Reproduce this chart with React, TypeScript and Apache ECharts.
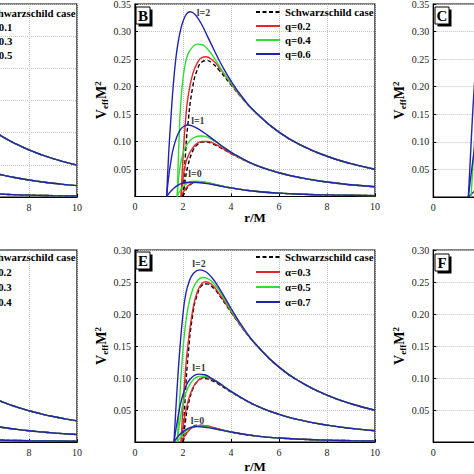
import React, { useEffect, useRef } from "react";
import * as echarts from "echarts";

const FONT = "'Liberation Serif', 'Times New Roman', Times, serif";

// ---------- data: r/M values and V_eff M^2 ----------
const xTicks = { min: 0, max: 10, step: 2 };

// Schwarzschild (black dashed)
const schwL2 = [[2, 0], [2.1, 0.075], [2.2, 0.13], [2.4, 0.198], [2.6, 0.231], [2.8, 0.245], [3.0, 0.247], [3.2, 0.243], [3.5, 0.23], [4, 0.203], [4.5, 0.177], [5, 0.154], [6, 0.117], [7, 0.0916], [8, 0.0732], [9, 0.0597], [10, 0.0496]];
const schwL1 = [[2, 0], [2.1, 0.032], [2.2, 0.055], [2.4, 0.082], [2.6, 0.0945], [2.8, 0.099], [3.0, 0.0988], [3.2, 0.096], [3.5, 0.09], [4, 0.0781], [4.5, 0.0671], [5, 0.0576], [6, 0.0432], [7, 0.0333], [8, 0.0264], [9, 0.0213], [10, 0.0176]];
const schwL0 = [[2, 0], [2.1, 0.0103], [2.2, 0.0171], [2.4, 0.0241], [2.6, 0.0263], [2.8, 0.026], [3.0, 0.0247], [3.2, 0.0229], [3.5, 0.02], [4, 0.0156], [5, 0.0096], [6, 0.0062], [7, 0.0042], [8, 0.0029], [9, 0.0022], [10, 0.0016]];

// Panel B: q = 0.2, 0.4, 0.6
const qLabels = ["q=0.2", "q=0.4", "q=0.6"];
const q02L2 = [[1.92, 0], [2.0, 0.07], [2.1, 0.135], [2.2, 0.178], [2.4, 0.222], [2.6, 0.243], [2.8, 0.253], [2.95, 0.254], [3.2, 0.249], [3.5, 0.235], [4, 0.205], [4.5, 0.177], [5, 0.154], [6, 0.117], [7, 0.0916], [8, 0.0732], [9, 0.0597], [10, 0.0496]];
const q04L2 = [[1.76, 0], [1.8, 0.06], [1.85, 0.12], [1.9, 0.165], [2.0, 0.215], [2.1, 0.242], [2.2, 0.258], [2.4, 0.272], [2.6, 0.277], [2.8, 0.276], [3.0, 0.269], [3.3, 0.252], [3.6, 0.231], [4, 0.206], [4.5, 0.178], [5, 0.154], [6, 0.117], [7, 0.0916], [8, 0.0732], [9, 0.0597], [10, 0.0496]];
const q06L2 = [[1.32, 0], [1.4, 0.075], [1.5, 0.145], [1.6, 0.205], [1.7, 0.25], [1.8, 0.281], [1.9, 0.303], [2.0, 0.318], [2.15, 0.332], [2.3, 0.336], [2.5, 0.331], [2.75, 0.315], [3.0, 0.293], [3.3, 0.266], [3.6, 0.24], [4, 0.21], [4.5, 0.179], [5, 0.154], [6, 0.117], [7, 0.0916], [8, 0.0732], [9, 0.0597], [10, 0.0496]];
const q02L1 = [[1.92, 0], [2.0, 0.033], [2.1, 0.058], [2.2, 0.072], [2.4, 0.088], [2.6, 0.097], [2.8, 0.1], [3.0, 0.1], [3.3, 0.096], [3.6, 0.089], [4, 0.0785], [4.5, 0.0672], [5, 0.0576], [6, 0.0432], [7, 0.0333], [8, 0.0264], [9, 0.0213], [10, 0.0176]];
const q04L1 = [[1.76, 0], [1.8, 0.025], [1.85, 0.045], [1.95, 0.07], [2.1, 0.09], [2.3, 0.102], [2.5, 0.108], [2.75, 0.11], [3.0, 0.108], [3.3, 0.101], [3.7, 0.09], [4.2, 0.075], [5, 0.0576], [6, 0.0432], [7, 0.0333], [8, 0.0264], [9, 0.0213], [10, 0.0176]];
const q06L1 = [[1.32, 0], [1.4, 0.035], [1.5, 0.065], [1.6, 0.088], [1.75, 0.109], [1.9, 0.122], [2.05, 0.128], [2.2, 0.13], [2.4, 0.128], [2.7, 0.121], [3.0, 0.112], [3.4, 0.099], [3.8, 0.086], [4.2, 0.0755], [5, 0.0576], [6, 0.0432], [7, 0.0333], [8, 0.0264], [9, 0.0213], [10, 0.0176]];
const q02L0 = [[1.92, 0], [2.0, 0.007], [2.2, 0.019], [2.4, 0.025], [2.65, 0.0268], [2.9, 0.026], [3.2, 0.0232], [3.6, 0.019], [4, 0.0156], [5, 0.0096], [6, 0.0062], [7, 0.0042], [8, 0.0029], [9, 0.0022], [10, 0.0016]];
const q04L0 = [[1.76, 0], [1.9, 0.012], [2.1, 0.022], [2.3, 0.0265], [2.5, 0.0278], [2.7, 0.0275], [3.0, 0.0255], [3.4, 0.0213], [4, 0.0157], [5, 0.0096], [6, 0.0062], [7, 0.0042], [8, 0.0029], [9, 0.0022], [10, 0.0016]];
const q06L0 = [[1.32, 0], [1.5, 0.01], [1.7, 0.018], [1.9, 0.023], [2.1, 0.0255], [2.3, 0.026], [2.6, 0.0255], [3.0, 0.0235], [3.5, 0.0195], [4, 0.0157], [5, 0.0096], [6, 0.0062], [7, 0.0042], [8, 0.0029], [9, 0.0022], [10, 0.0016]];

// Panel E: alpha = 0.3, 0.5, 0.7
const aLabels = ["α=0.3", "α=0.5", "α=0.7"];
const a03L2 = [[1.92, 0], [2.0, 0.055], [2.1, 0.11], [2.2, 0.15], [2.4, 0.205], [2.6, 0.235], [2.8, 0.248], [2.96, 0.2505], [3.2, 0.246], [3.5, 0.232], [4, 0.204], [4.5, 0.177], [5, 0.154], [6, 0.117], [7, 0.0916], [8, 0.0732], [9, 0.0597], [10, 0.0496]];
const a05L2 = [[1.76, 0], [1.85, 0.06], [1.95, 0.12], [2.05, 0.165], [2.2, 0.208], [2.4, 0.238], [2.6, 0.252], [2.82, 0.257], [3.05, 0.255], [3.3, 0.247], [3.6, 0.231], [4, 0.206], [4.5, 0.178], [5, 0.154], [6, 0.117], [7, 0.0916], [8, 0.0732], [9, 0.0597], [10, 0.0496]];
const a07L2 = [[1.625, 0], [1.7, 0.05], [1.8, 0.11], [1.9, 0.16], [2.0, 0.2], [2.1, 0.228], [2.25, 0.25], [2.45, 0.264], [2.7, 0.269], [2.95, 0.266], [3.2, 0.257], [3.5, 0.241], [4, 0.209], [4.5, 0.179], [5, 0.154], [6, 0.117], [7, 0.0916], [8, 0.0732], [9, 0.0597], [10, 0.0496]];
const a03L1 = [[1.92, 0], [2.05, 0.035], [2.2, 0.062], [2.4, 0.084], [2.6, 0.095], [2.85, 0.101], [3.1, 0.0995], [3.4, 0.094], [3.8, 0.084], [4.2, 0.0745], [5, 0.0576], [6, 0.0432], [7, 0.0333], [8, 0.0264], [9, 0.0213], [10, 0.0176]];
const a05L1 = [[1.76, 0], [1.9, 0.04], [2.05, 0.068], [2.2, 0.084], [2.4, 0.096], [2.6, 0.102], [2.8, 0.103], [3.0, 0.102], [3.3, 0.097], [3.6, 0.09], [4, 0.0788], [5, 0.0576], [6, 0.0432], [7, 0.0333], [8, 0.0264], [9, 0.0213], [10, 0.0176]];
const a07L1 = [[1.625, 0], [1.75, 0.03], [1.9, 0.06], [2.05, 0.08], [2.2, 0.093], [2.4, 0.102], [2.64, 0.106], [2.9, 0.105], [3.2, 0.099], [3.6, 0.0895], [4, 0.079], [5, 0.0576], [6, 0.0432], [7, 0.0333], [8, 0.0264], [9, 0.0213], [10, 0.0176]];
const a03L0 = [[1.92, 0], [2.1, 0.011], [2.3, 0.02], [2.5, 0.0245], [2.7, 0.026], [3.0, 0.025], [3.4, 0.0213], [4, 0.0156], [5, 0.0096], [6, 0.0062], [7, 0.0042], [8, 0.0029], [9, 0.0022], [10, 0.0016]];
const a05L0 = [[1.76, 0], [1.95, 0.01], [2.15, 0.018], [2.4, 0.0235], [2.65, 0.025], [2.9, 0.0245], [3.3, 0.021], [4, 0.0156], [5, 0.0096], [6, 0.0062], [7, 0.0042], [8, 0.0029], [9, 0.0022], [10, 0.0016]];
const a07L0 = [[1.625, 0], [1.8, 0.009], [2.0, 0.016], [2.2, 0.021], [2.4, 0.0235], [2.6, 0.024], [2.85, 0.0235], [3.2, 0.0215], [3.6, 0.0185], [4, 0.0156], [5, 0.0096], [6, 0.0062], [7, 0.0042], [8, 0.0029], [9, 0.0022], [10, 0.0016]];

// Panels A and D: only the tails (r > 6.5) are in view
const aParamLabels = ["β=0.1", "β=0.3", "β=0.5"];
const dParamLabels = ["γ=0.2", "γ=0.3", "γ=0.4"];
const tailL2 = [[6.5, 0.1034], [7, 0.0916], [7.5, 0.0817], [8, 0.0732], [8.5, 0.066], [9, 0.0597], [9.5, 0.0543], [10, 0.0496]];
const tailL1 = [[6.5, 0.0378], [7, 0.0333], [7.5, 0.0296], [8, 0.0264], [8.5, 0.0237], [9, 0.0213], [9.5, 0.0193], [10, 0.0176]];
const tailL0 = [[6.5, 0.005], [7, 0.0042], [8, 0.0029], [9, 0.0022], [10, 0.0016]];

// Panel C: only the steep rise near r/M ~ 1.5 is in view
const cBlueL2 = [[1.46, 0], [1.55, 0.075], [1.65, 0.16], [1.75, 0.23]];
const cBlueL1 = [[1.46, 0], [1.6, 0.05], [1.75, 0.1]];
const cBlueL0 = [[1.46, 0], [1.75, 0.012]];
const cGreenL2 = [[1.57, 0], [1.65, 0.055], [1.75, 0.13]];

// curve annotations (text, r/M, V)
const annB = [["l=2", 2.85, 0.335], ["l=1", 2.62, 0.139], ["l=0", 2.5, 0.041]];
const annE = [["l=2", 2.67, 0.279], ["l=1", 2.67, 0.117], ["l=0", 2.6, 0.033]];

const SCHW = "Schwarzschild case";
const COLORS = { schw: "#000000", c1: "#e3262c", c2: "#30dc30", c3: "#2222b0" };

const panels = [
  { key: "A", left: -163, top: 4, height: 193, yMax: 0.3, hGrid: true, yName: false, xName: false, xGap: 14, xShow: "right", yLabels: false },
  { key: "B", left: 135, top: 4, height: 192.5, yMax: 0.35, hGrid: true, yName: true, xName: true, xGap: 14, xShow: "all", yLabels: true },
  { key: "C", left: 433.3, top: 4, height: 193, yMax: 0.35, hGrid: true, yName: true, xName: false, xGap: 14, xShow: "left", yLabels: true },
  { key: "D", left: -163, top: 250, height: 192, yMax: 0.45, hGrid: false, yName: false, xName: false, xGap: 18, xShow: "right", yLabels: false },
  { key: "E", left: 135, top: 250, height: 192, yMax: 0.3, hGrid: true, yName: true, xName: true, xGap: 18, xShow: "all", yLabels: true },
  { key: "F", left: 433.3, top: 250, height: 192, yMax: 0.3, hGrid: true, yName: true, xName: false, xGap: 18, xShow: "left", yLabels: true },
];

function line(gi: number, name: string, data: number[][], color: string, dashed = false) {
  return {
    type: "line",
    name,
    xAxisIndex: gi,
    yAxisIndex: gi,
    data,
    symbol: "none",
    showSymbol: false,
    smooth: 0.5,
    clip: true,
    silent: true,
    z: dashed ? 2 : 3,
    lineStyle: { color, width: 1.4, type: dashed ? [4, 2.5] : "solid" },
    itemStyle: { color },
  };
}

function panelSeries(gi: number, labels: string[], sets: number[][][][]) {
  const cols = [COLORS.schw, COLORS.c1, COLORS.c2, COLORS.c3];
  const names = [SCHW, ...labels];
  const out: any[] = [];
  sets.forEach((set, k) => {
    set.forEach((d) => out.push(line(gi, names[k], d, cols[k], k === 0)));
  });
  return out;
}

function annSeries(gi: number, ann: any[]) {
  return {
    type: "scatter",
    xAxisIndex: gi,
    yAxisIndex: gi,
    symbolSize: 1,
    silent: true,
    z: 10,
    itemStyle: { color: "transparent" },
    data: ann.map((a) => ({ value: [a[1], a[2]], label: { formatter: a[0] } })),
    label: { show: true, position: "inside", fontFamily: FONT, fontWeight: "bold", fontSize: 10, color: "#000" },
  };
}

function legend(left: number, top: number, labels: string[], gap: number) {
  return {
    orient: "vertical",
    left,
    top,
    padding: 0,
    itemWidth: 24,
    itemHeight: 10,
    itemGap: gap,
    selectedMode: false,
    itemStyle: { opacity: 0 },
    data: [SCHW, ...labels],
    textStyle: { fontFamily: FONT, fontWeight: "bold", fontSize: 10.8, color: "#000", lineHeight: 12 },
  };
}

const yNameRich = {
  sub: { fontFamily: FONT, fontWeight: "bold", fontSize: 9, verticalAlign: "bottom", lineHeight: 10, padding: [7, 0, 0, 0] },
  sup: { fontFamily: FONT, fontWeight: "bold", fontSize: 9, verticalAlign: "top", lineHeight: 10 },
};

function xFormatter(mode: string) {
  return (v: number) => {
    if (mode === "right" && v < 8) return "";
    if (mode === "left" && v > 0) return "";
    return String(v);
  };
}

function buildOption() {
  const grid = panels.map((p) => ({
    left: p.left, top: p.top, width: 240, height: p.height,
    outerBoundsMode: "none",
    containLabel: false,
    show: true, borderColor: "#000", borderWidth: 1.2, backgroundColor: "transparent",
  }));
  const xAxis = panels.map((p, i) => ({
    type: "value", gridIndex: i, min: xTicks.min, max: xTicks.max, interval: xTicks.step,
    axisLine: { show: true, onZero: false, lineStyle: { color: "#000", width: 1.2 } },
    axisTick: { show: true, inside: true, length: 3, lineStyle: { color: "#000" } },
    axisLabel: { margin: 5, fontFamily: FONT, fontSize: 10, color: "#222", formatter: xFormatter(p.xShow) },
    splitLine: { show: true, lineStyle: { color: "#c4c4c4", type: "dotted", width: 1 } },
    name: p.xName ? "r/M" : "",
    nameLocation: "middle",
    nameGap: p.xGap,
    nameMoveOverlap: false,
    nameTextStyle: { fontFamily: FONT, fontWeight: "bold", fontSize: 13, color: "#000" },
  }));
  const yAxis: any[] = panels.map((p, i) => ({
    type: "value", gridIndex: i, min: 0, max: p.yMax, interval: 0.05,
    axisLine: { show: true, onZero: false, lineStyle: { color: "#000", width: 1.2 } },
    axisTick: { show: true, inside: true, length: 3, lineStyle: { color: "#000" } },
    axisLabel: {
      show: p.yLabels,
      margin: 4, fontFamily: FONT, fontSize: 10, color: "#222",
      formatter: (v: number) => (v === 0 ? "" : v.toFixed(2)),
    },
    splitLine: { show: p.hGrid, lineStyle: { color: "#c4c4c4", type: "dotted", width: 1 } },
    name: p.yName ? "V{sub|eff}M{sup|2}" : "",
    nameLocation: "middle",
    nameRotate: 90,
    nameGap: 26,
    nameMoveOverlap: false,
    nameTextStyle: { fontFamily: FONT, fontWeight: "bold", fontSize: 14, color: "#000", lineHeight: 16, rich: yNameRich },
  }));
  // right-hand ticks of panel D
  yAxis.push({
    type: "value", gridIndex: 3, position: "right", min: 0, max: 0.45, interval: 0.05,
    axisLine: { show: false }, axisLabel: { show: false }, splitLine: { show: false },
    axisTick: { show: true, inside: true, length: 4, lineStyle: { color: "#000" } },
  });

  const series: any[] = [
    ...panelSeries(0, aParamLabels, [[tailL2, tailL1, tailL0], [tailL2, tailL1, tailL0], [tailL2, tailL1, tailL0], [tailL2, tailL1, tailL0]]),
    ...panelSeries(1, qLabels, [[schwL2, schwL1, schwL0], [q02L2, q02L1, q02L0], [q04L2, q04L1, q04L0], [q06L2, q06L1, q06L0]]),
    line(2, "C blue", cBlueL0, COLORS.c3),
    line(2, "C green", cGreenL2, COLORS.c2),
    line(2, "C blue", cBlueL1, COLORS.c3),
    line(2, "C blue", cBlueL2, COLORS.c3),
    ...panelSeries(3, dParamLabels, [[tailL2, tailL1, tailL0], [tailL2, tailL1, tailL0], [tailL2, tailL1, tailL0], [tailL2, tailL1, tailL0]]),
    ...panelSeries(4, aLabels, [[schwL2, schwL1, schwL0], [a03L2, a03L1, a03L0], [a05L2, a05L1, a05L0], [a07L2, a07L1, a07L0]]),
    annSeries(1, annB),
    annSeries(4, annE),
  ];

  const boxes = [["B", 136, 7], ["C", 435, 7], ["E", 136, 252], ["F", 435, 254]];
  const graphic = boxes.map((b) => ({
    type: "group",
    children: [
      { type: "rect", shape: { x: (b[1] as number) + 2.5, y: (b[2] as number) + 2.5, width: 14, height: 17 }, style: { fill: "#000" } },
      { type: "rect", shape: { x: b[1], y: b[2], width: 14, height: 17 }, style: { fill: "#fff", stroke: "#000", lineWidth: 1 } },
      {
        type: "text", x: (b[1] as number) + 7, y: (b[2] as number) + 9,
        style: { text: b[0], font: `bold 15px ${FONT}`, fill: "#000", align: "center", verticalAlign: "middle" },
      },
    ],
  }));

  return {
    animation: false,
    backgroundColor: "#fff",
    grid,
    xAxis,
    yAxis,
    legend: [
      legend(-43, 7, aParamLabels, 2),
      legend(255, 6, qLabels, 2),
      legend(-43, 251, dParamLabels, 3),
      legend(255, 251, aLabels, 3),
    ],
    series,
    graphic,
  };
}

export default function App() {
  const ref = useRef<HTMLDivElement>(null);
  useEffect(() => {
    if (!ref.current) return;
    const chart = echarts.init(ref.current, undefined, { renderer: "svg" });
    chart.setOption(buildOption() as any);
    return () => chart.dispose();
  }, []);
  return (
    <div style={{ position: "fixed", left: 0, top: 0, width: 474, height: 474, overflow: "hidden", background: "#fff" }}>
      <div ref={ref} style={{ width: 474, height: 474 }} />
    </div>
  );
}
